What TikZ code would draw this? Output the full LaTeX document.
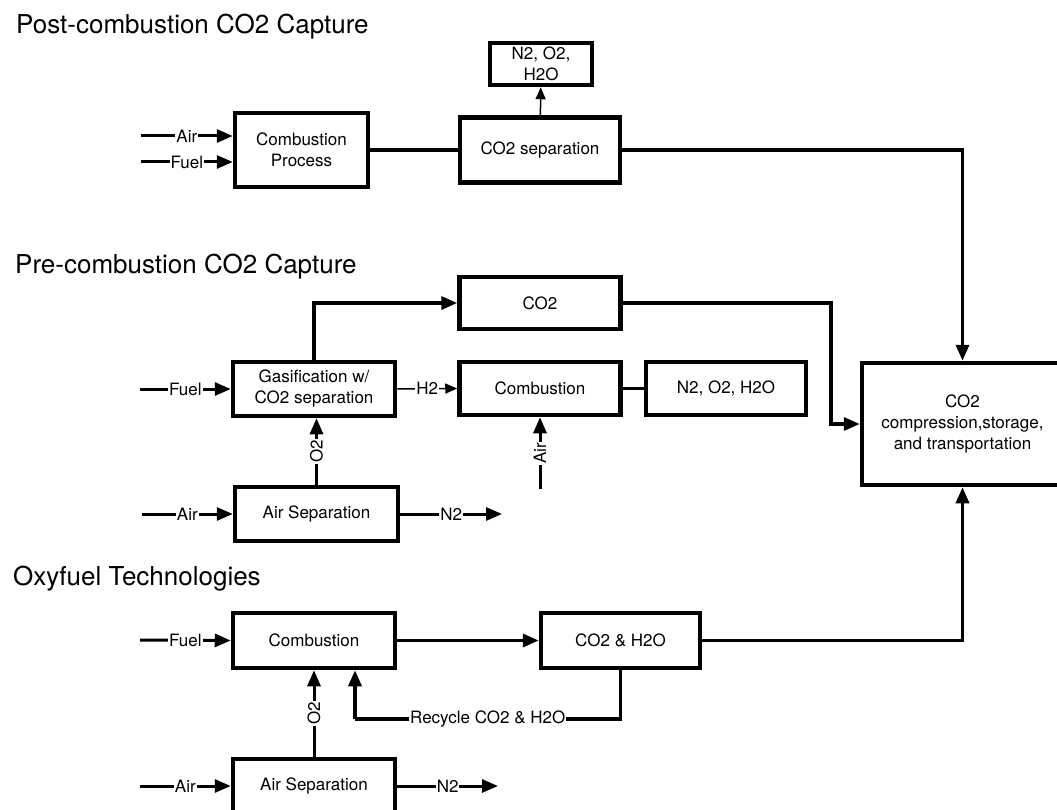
\documentclass[tikz,border=0pt]{standalone}
\usepackage{fontspec}
\setmainfont{TeX Gyre Heros}
\usetikzlibrary{arrows.meta}

\begin{document}
\begin{tikzpicture}
  [x=1pt,y=-1pt,>={Triangle[length=16pt,width=13pt]},
   box/.style={draw,line width=4.5pt,inner sep=0pt,align=center,font=\fontsize{17}{21}\selectfont},
   flow/.style={line width=3.5pt},
   feed/.style={line width=3pt,->},
   thin/.style={line width=1.5pt,-{Triangle[length=12pt,width=10pt]}},
   lbl/.style={fill=white,inner sep=1pt,font=\fontsize{17}{21}\selectfont},
   heading/.style={anchor=base west,inner sep=0pt,font=\fontsize{26}{30}\selectfont}]
  \useasboundingbox (0,0) rectangle (1057,810);

  % post-combustion
  \node[heading] (t1) at (16,34) {Post-combustion CO2 Capture};
  \node[box,minimum width=133pt,minimum height=74pt] (cproc) at (301.5,150) {Combustion\\Process};
  \node[box,minimum width=160pt,minimum height=65pt] (sep) at (540,150) {CO2 separation};
  \node[box,minimum width=102pt,minimum height=42pt] (vent) at (541,64) {N2, O2,\\H2O};
  \coordinate (airA) at (141,136);
  \coordinate (fuelA) at (141,162);

  % pre-combustion
  \node[heading] (t2) at (15,274) {Pre-combustion CO2 Capture};
  \node[box,minimum width=161pt,minimum height=52pt] (co2) at (540,303) {CO2};
  \node[box,minimum width=162pt,minimum height=54pt] (gas) at (314,389) {Gasification w/\\CO2 separation};
  \node[box,minimum width=161pt,minimum height=53pt] (pcomb) at (540,388.5) {Combustion};
  \node[box,minimum width=160pt,minimum height=53pt] (pvent) at (726,388.5) {N2, O2, H2O};
  \node[box,minimum width=163pt,minimum height=54pt] (pasu) at (316.5,514) {Air Separation};
  \node[box,minimum width=201pt,minimum height=122pt] (comp) at (962.5,424)
    {CO2\\compression,storage,\\and transportation};
  \coordinate (fuelB) at (140,389);
  \coordinate (airB) at (142,514);
  \coordinate (nB) at (502,514);
  \coordinate (airC) at (540,489);
  \coordinate (bend) at (831,303);

  % oxyfuel
  \node[heading] (t3) at (13,585) {Oxyfuel Technologies};
  \node[box,minimum width=162pt,minimum height=55pt] (ocomb) at (314,640.5) {Combustion};
  \node[box,minimum width=159pt,minimum height=55pt] (oprod) at (620.5,640.5) {CO2 \& H2O};
  \node[box,minimum width=162pt,minimum height=54pt] (oasu) at (314,786) {Air Separation};
  \coordinate (fuelD) at (140,640);
  \coordinate (airD) at (140,786);
  \coordinate (nD) at (498,786);
  \coordinate (rec) at (355,719);

  % connectors
  \foreach \from/\to in {cproc/sep,pcomb/pvent}
    \draw[flow] (\from) -- (\to);
  \draw[feed] (airA) -- node[lbl]{Air} (airA -| cproc.west);
  \draw[feed] (fuelA) -- node[lbl]{Fuel} (fuelA -| cproc.west);
  \draw[thin] (sep) -- (vent);
  \draw[flow,->] (sep.east) -| (comp.north);

  \draw[feed] (fuelB) -- node[lbl]{Fuel} (gas.west);
  \draw[flow,->] (gas.north) |- (co2.west);
  \draw[thin] (gas.east) -- node[lbl]{H2} (pcomb.west);
  \draw[feed] (airC) -- node[lbl,rotate=90]{Air} (pcomb.south);
  \draw[feed] (pasu.north) -- node[lbl,rotate=90]{O2} (gas.south -| pasu.north);
  \draw[feed] (airB) -- node[lbl]{Air} (pasu.west);
  \draw[feed] (pasu.east) -- node[lbl]{N2} (nB);
  \draw[flow,->] (co2.east) -- (bend) |- (comp.west);

  \draw[feed] (fuelD) -- node[lbl]{Fuel} (ocomb.west);
  \draw[flow,->] (ocomb) -- (oprod);
  \draw[flow,->] (oprod.east) -| (comp.south);
  \draw[flow] (oprod.south) |- node[lbl,pos=0.75]{Recycle CO2 \& H2O} (rec);
  \draw[flow,->] (rec) -- (rec |- ocomb.south);
  \draw[feed] (oasu.north) -- node[lbl,rotate=90]{O2} (ocomb.south);
  \draw[feed] (airD) -- node[lbl]{Air} (oasu.west);
  \draw[feed] (oasu.east) -- node[lbl]{N2} (nD);
\end{tikzpicture}
\end{document}
